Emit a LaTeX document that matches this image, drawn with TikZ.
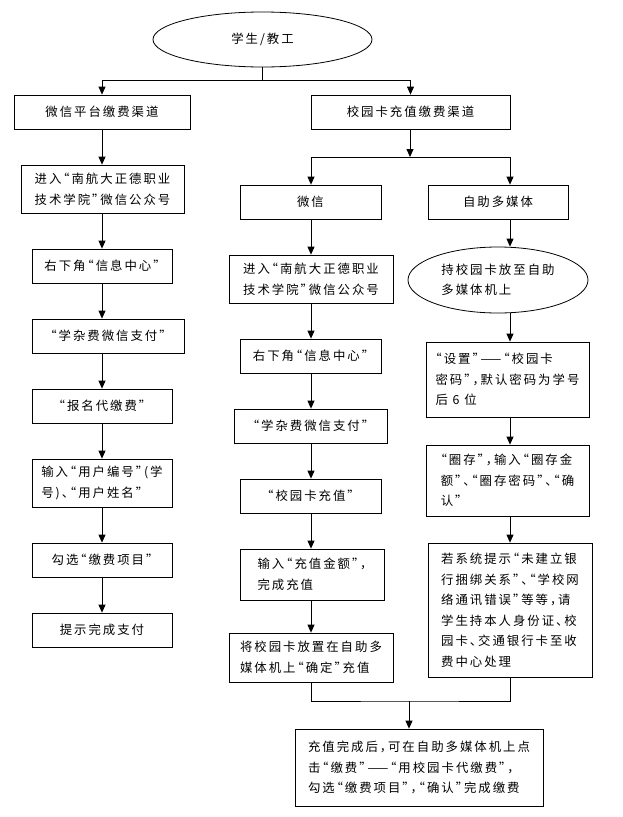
\documentclass[tikz,border=0pt]{standalone}
\usepackage{fontspec}
\newfontfamily\cjk[LetterSpace=16,RawFeature=+halt]{Noto Sans CJK SC}
\usetikzlibrary{shapes.geometric,arrows.meta}
\begin{document}
\begin{tikzpicture}[x=1pt,y=-1pt,
  txt/.style={font=\cjk\fontsize{12.4pt}{20.5pt}\selectfont, align=left, inner sep=0pt},
  box/.style={txt, draw, line width=0.8pt, fill=white},
  oval/.style={txt, draw, line width=0.8pt, ellipse},
  arr/.style={-{Triangle[width=7pt,length=8pt]}, line width=0.8pt},
  ln/.style={line width=0.8pt}]
\useasboundingbox (0,0) rectangle (623,817);
\coordinate (cl) at (102,0);
\coordinate (cm) at (311,0);
\coordinate (cr) at (510,0);
% top
\node[oval, minimum width=219pt, minimum height=55pt] (top) at (262.5,39.5) {学生/教工};
\node[box, minimum width=176pt, minimum height=34pt] (b1) at (102,112) {微信平台缴费渠道};
\node[box, minimum width=199pt, minimum height=34pt] (b2) at (410.5,112) {校园卡充值缴费渠道};
% left column
\node[box, minimum width=163pt, minimum height=48pt] (L1) at (102.5,189) {进入“南航大正德职业\\技术学院”微信公众号};
\node[box, minimum width=140pt, minimum height=34pt] (L2) at (102,266) {右下角“信息中心”};
\node[box, minimum width=152pt, minimum height=34pt] (L3) at (108,336) {“学杂费微信支付”};
\node[box, minimum width=140pt, minimum height=34pt] (L4) at (102,406) {“报名代缴费”};
\node[box, minimum width=140pt, minimum height=48pt] (L5) at (102,483) {输入“用户编号”(学\\号)、“用户姓名”};
\node[box, minimum width=140pt, minimum height=34pt] (L6) at (102,560) {勾选“缴费项目”};
\node[box, minimum width=140pt, minimum height=34pt] (L7) at (102,630) {提示完成支付};
% middle column
\node[box, minimum width=141pt, minimum height=34pt] (M1) at (310.5,202) {微信};
\node[box, minimum width=164pt, minimum height=48pt] (M2) at (311,279) {进入“南航大正德职业\\技术学院”微信公众号};
\node[box, minimum width=141pt, minimum height=34pt] (M3) at (310.5,356) {右下角“信息中心”};
\node[box, minimum width=153pt, minimum height=34pt] (M4) at (310.5,426) {“学杂费微信支付”};
\node[box, minimum width=141pt, minimum height=34pt] (M5) at (310.5,496) {“校园卡充值”};
\node[box, minimum width=144pt, minimum height=51pt] (M6) at (312,574.5) {输入“充值金额”，\\完成充值};
\node[box, minimum width=164pt, minimum height=49pt] (M7) at (311,657.5) {将校园卡放置在自助多\\媒体机上“确定”充值};
% right column
\node[box, minimum width=140pt, minimum height=34pt] (R1) at (498,202) {自助多媒体};
\node[oval, minimum width=180pt, minimum height=66pt] (R2) at (498,280) {持校园卡放至自助\\多媒体机上};
\node[box, minimum width=163pt, minimum height=75pt] (R3) at (507.5,379.5) {“设置”——“校园卡\\密码”，默认密码为学号\\后 6 位};
\node[box, minimum width=163pt, minimum height=71pt] (R4) at (507.5,480.5) {“圈存”，输入“圈存金\\额”、“圈存密码”、“确\\认”};
\node[box, minimum width=164pt, minimum height=134pt] (R5) at (510,610) {若系统提示“未建立银\\行捆绑关系”、“学校网\\络通讯错误”等等，请\\学生持本人身份证、校\\园卡、交通银行卡至收\\费中心处理};
% final
\node[box, minimum width=248pt, minimum height=77pt] (F) at (419,767.5) {充值完成后，可在自助多媒体机上点\\击“缴费”——“用校园卡代缴费”，\\勾选“缴费项目”，“确认”完成缴费};
% connectors top
\coordinate (j1) at (264,80);
\draw[ln] (top.south) -- (top.south |- j1);
\draw[arr] (j1) -| (b1.north);
\draw[arr] (j1) -| (b2.north);
% left
\draw[arr] (b1.south -| cl) -- (L1.north -| cl);
\draw[arr] (L1.south -| cl) -- (L2.north -| cl);
\draw[arr] (L2.south -| cl) -- (L3.north -| cl);
\draw[arr] (L3.south -| cl) -- (L4.north -| cl);
\draw[arr] (L4.south -| cl) -- (L5.north -| cl);
\draw[arr] (L5.south -| cl) -- (L6.north -| cl);
\draw[arr] (L6.south -| cl) -- (L7.north -| cl);
% split
\coordinate (j2) at (410,157);
\draw[arr] (b2.south -| j2) -- (j2);
\draw[arr] (j2) -| (M1.north -| cm);
\draw[arr] (j2) -| (R1.north -| cr);
% middle
\draw[arr] (M1.south -| cm) -- (M2.north -| cm);
\draw[arr] (M2.south -| cm) -- (M3.north -| cm);
\draw[arr] (M3.south -| cm) -- (M4.north -| cm);
\draw[arr] (M4.south -| cm) -- (M5.north -| cm);
\draw[arr] (M5.south -| cm) -- (M6.north -| cm);
\draw[arr] (M6.south -| cm) -- (M7.north -| cm);
% right
\draw[arr] (R1.south -| cr) -- (R2.north -| cr);
\draw[arr] (R2.south -| cr) -- (R3.north -| cr);
\draw[arr] (R3.south -| cr) -- (R4.north -| cr);
\draw[arr] (R4.south -| cr) -- (R5.north -| cr);
% merge
\coordinate (j3) at (409,701);
\draw[ln] (M7.south -| cm) |- (j3) -| (R5.south -| cr);
\draw[arr] (j3) -- (j3 |- F.north);
\end{tikzpicture}
\end{document}
